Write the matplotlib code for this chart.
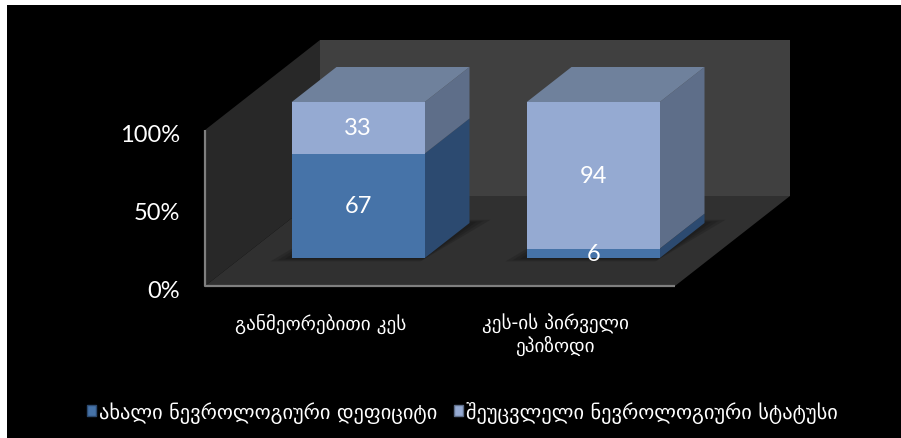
import numpy as np
import matplotlib.pyplot as plt
from matplotlib.patches import Polygon, Rectangle, Patch

# ---------------------------------------------------------------------------
# Data
# ---------------------------------------------------------------------------
categories = ['განმეორებითი კეს', 'კეს-ის პირველი\nეპიზოდი']
series_names = ['ახალი ნევროლოგიური დეფიციტი',
                'შეუცვლელი ნევროლოგიური სტატუსი']
new_deficit = [67, 6]
unchanged = [33, 94]
y_ticks = [0, 50, 100]

# ---------------------------------------------------------------------------
# Layout of the pseudo-3D box (pixels, 100 dpi)
# ---------------------------------------------------------------------------
W, H = 901, 439
PX_X = 235.0          # pixels per category slot
PX_Y = 1.56           # pixels per percent
ORIGIN = (205, 287)   # front-left corner of the floor, pixels from top-left
DEPTH_PX = (115, 90)  # floor depth vector (right, up)
DDX = DEPTH_PX[0] / PX_X
DDY = DEPTH_PX[1] / PX_Y
BAR_W = 0.566
BAR_D0, BAR_D1 = 0.31, 0.70

FACE = {
    0: dict(front='#4673a8', side='#2c4a70', top='#3b5e8c'),
    1: dict(front='#95aad2', side='#5e6e89', top='#6f819c'),
}


def shift(pts, d):
    return [(x + DDX * d, y + DDY * d) for x, y in pts]


def draw_box(ax, x0, x1, y0, y1, colors, top=False):
    front = shift([(x0, y0), (x1, y0), (x1, y1), (x0, y1)], BAR_D0)
    side = shift([(x1, y0), (x1, y1)], BAR_D0) + shift([(x1, y1), (x1, y0)], BAR_D1)
    ax.add_patch(Polygon(side, closed=True, fc=colors['side'], ec='none', zorder=3))
    ax.add_patch(Polygon(front, closed=True, fc=colors['front'], ec='none', zorder=4))
    if top:
        tp = shift([(x0, y1), (x1, y1)], BAR_D0) + shift([(x1, y1), (x0, y1)], BAR_D1)
        ax.add_patch(Polygon(tp, closed=True, fc=colors['top'], ec='none', zorder=3))


fig = plt.figure(figsize=(W / 100, H / 100), dpi=100, facecolor='white')
fig.patches.append(Rectangle((7 / W, 0), 1, 1 - 6 / H, transform=fig.transFigure,
                             fc='black', ec='none', zorder=-5))
ax = fig.add_axes([0, 0, 1, 1])
ax.set_facecolor('none')
ax.set_xlim(-ORIGIN[0] / PX_X, (W - ORIGIN[0]) / PX_X)
ax.set_ylim(-(H - ORIGIN[1]) / PX_Y, ORIGIN[1] / PX_Y)
ax.axis('off')

n = len(categories)
top_val = 100

# walls and floor
floor = [(0, 0), (n, 0), (n + DDX, DDY), (DDX, DDY)]
left_wall = [(0, 0), (0, top_val), (DDX, top_val + DDY), (DDX, DDY)]
back_wall = [(DDX, DDY), (n + DDX, DDY), (n + DDX, top_val + DDY), (DDX, top_val + DDY)]
ax.add_patch(Polygon(back_wall, closed=True, fc='#404040', ec='none', zorder=0))
ax.add_patch(Polygon(left_wall, closed=True, fc='#282828', ec='none', zorder=0))
ax.add_patch(Polygon(floor, closed=True, fc='#303030', ec='none', zorder=1))
ax.plot([0, 0, n], [top_val, 0, 0], color='#7f7f7f', lw=1.6, zorder=2,
        solid_capstyle='butt')

# stacked 100% bars
num_font = dict(family='Lato', color='white', fontsize=17)
for i in range(n):
    total = new_deficit[i] + unchanged[i]
    p1 = new_deficit[i] / total * 100
    x0 = i + 0.5 - BAR_W / 2
    x1 = i + 0.5 + BAR_W / 2
    # soft shadow on the floor
    for k, a in enumerate([0.25, 0.25, 0.3]):
        g = 0.012 * (3 - k)
        sh = shift([(x0 - g * 2, 0), (x1, 0)], BAR_D0 - g) + \
            shift([(x1 + g * 2, 0), (x0, 0)], BAR_D1 + g)
        ax.add_patch(Polygon(sh, closed=True, fc='#151515', ec='none', alpha=a, zorder=2))
    draw_box(ax, x0, x1, 0, p1, FACE[0])
    draw_box(ax, x0, x1, p1, 100, FACE[1], top=True)
    cx = i + 0.5 + DDX * BAR_D0
    cy = DDY * BAR_D0
    ax.text(cx, cy + p1 / 2, str(new_deficit[i]), ha='center', va='center',
            zorder=6, **num_font)
    ax.text(cx, cy + p1 + (100 - p1) / 2, str(unchanged[i]), ha='center',
            va='center', zorder=6, **num_font)

# value axis labels
for t in y_ticks:
    ax.text(-25 / PX_X, t - 3, f'{t}%', ha='right', va='center', **num_font)

# category labels
for i, c in enumerate(categories):
    ax.text(i + 0.49, -17, c, ha='center', va='top', color='white',
            fontsize=13.8, family='DejaVu Sans', linespacing=1.15)

handles = [Patch(fc=FACE[0]['front'], ec='#2c4a70'),
           Patch(fc=FACE[1]['front'], ec='#5e6e89')]
leg = fig.legend(handles, series_names, loc='center', bbox_to_anchor=(0.513, 0.059),
                 ncol=2, frameon=False, handlelength=0.45, handleheight=0.45,
                 handletextpad=0.15, columnspacing=0.8,
                 prop=dict(family='DejaVu Sans', size=14.7))
for t in leg.get_texts():
    t.set_color('white')

fig.savefig('out.png', dpi=100, facecolor=fig.get_facecolor())
